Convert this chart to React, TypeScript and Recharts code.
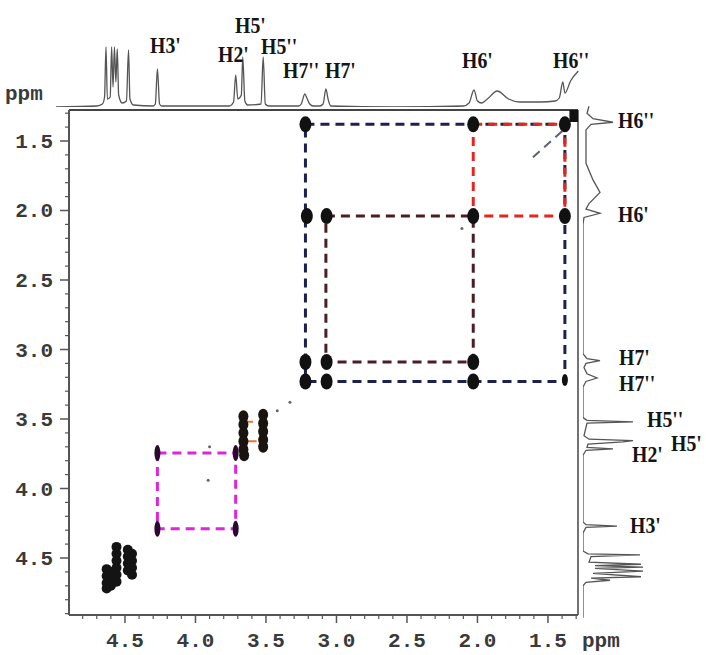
import React from "react";
import { LineChart, Line, ScatterChart, Scatter, XAxis, YAxis, ReferenceLine } from "recharts";

// chemical shift ticks (ppm): every 0.1, labelled every 0.5
const xTicks = [1.3, 1.4, 1.5, 1.6, 1.7, 1.8, 1.9, 2.0, 2.1, 2.2, 2.3, 2.4, 2.5, 2.6, 2.7, 2.8, 2.9, 3.0, 3.1, 3.2, 3.3, 3.4, 3.5, 3.6, 3.7, 3.8, 3.9, 4.0, 4.1, 4.2, 4.3, 4.4, 4.5, 4.6, 4.7, 4.8];
const yTicks = [1.3, 1.4, 1.5, 1.6, 1.7, 1.8, 1.9, 2.0, 2.1, 2.2, 2.3, 2.4, 2.5, 2.6, 2.7, 2.8, 2.9, 3.0, 3.1, 3.2, 3.3, 3.4, 3.5, 3.6, 3.7, 3.8, 3.9, 4.0, 4.1, 4.2, 4.3, 4.4, 4.5, 4.6, 4.7, 4.8, 4.9];

// 1D projection along the top: [ppm, intensity]
const topSpectrum = [
  [4.99, 0], [4.7, 1], [4.66, 3], [4.645, 10], [4.635, 60], [4.625, 8], [4.605, 10], [4.595, 60],
  [4.585, 20], [4.575, 60], [4.565, 25], [4.555, 58], [4.545, 12], [4.52, 4], [4.49, 6], [4.475, 57],
  [4.465, 8], [4.44, 2], [4.3, 1], [4.285, 3], [4.27, 38], [4.255, 3], [4.24, 1], [3.76, 1], [3.73, 5],
  [3.715, 32], [3.7, 8], [3.675, 12], [3.665, 50], [3.65, 6], [3.63, 2], [3.535, 3], [3.52, 50],
  [3.505, 3], [3.48, 1], [3.27, 1], [3.25, 3], [3.225, 13], [3.21, 9], [3.19, 3], [3.165, 1], [3.12, 1],
  [3.095, 3], [3.075, 18], [3.06, 8], [3.04, 1], [2.6, 0], [2.1, 1], [2.06, 4], [2.025, 17], [2.0, 6],
  [1.97, 4], [1.93, 8], [1.86, 16], [1.78, 8], [1.7, 5], [1.55, 5], [1.45, 6], [1.42, 9], [1.395, 25],
  [1.38, 14], [1.34, 26], [1.285, 36],
];

// 1D projection along the right side: [ppm, intensity]
const rightSpectrum = [
  [1.25, 6], [1.3, 4], [1.34, 10], [1.365, 30], [1.38, 8], [1.42, 3], [1.55, 3], [1.66, 3], [1.78, 10],
  [1.87, 17], [1.95, 6], [1.99, 3], [2.02, 17], [2.05, 1], [2.1, 0], [3.03, 0], [3.065, 4], [3.08, 17],
  [3.1, 3], [3.13, 1], [3.175, 4], [3.205, 14], [3.23, 3], [3.27, 0], [3.49, 0], [3.51, 4], [3.52, 50],
  [3.53, 4], [3.62, 1], [3.645, 6], [3.655, 50], [3.665, 40], [3.68, 5], [3.705, 4], [3.715, 30],
  [3.725, 3], [3.76, 0], [4.24, 0], [4.26, 3], [4.27, 34], [4.28, 3], [4.32, 0], [4.45, 0], [4.47, 5],
  [4.478, 57], [4.49, 8], [4.53, 6], [4.545, 58], [4.555, 12], [4.565, 60], [4.575, 12], [4.595, 60],
  [4.61, 10], [4.635, 58], [4.645, 8], [4.66, 27], [4.675, 3], [4.7, 0], [4.93, 0],
];

// cross peaks of the H6/H7 spin system
const crossPeaks = [
  { x: 3.22, y: 1.38 }, { x: 2.03, y: 1.38 }, { x: 1.38, y: 1.38 },
  { x: 3.21, y: 2.04 }, { x: 3.07, y: 2.04 }, { x: 2.03, y: 2.04 }, { x: 1.38, y: 2.04 },
  { x: 3.22, y: 3.09 }, { x: 3.07, y: 3.09 }, { x: 2.03, y: 3.09 },
  { x: 3.22, y: 3.23 }, { x: 3.07, y: 3.23 }, { x: 2.03, y: 3.23 },
];
const smallPeaks = [{ x: 1.38, y: 3.22 }];
const cornerPeak = [{ x: 1.316, y: 1.32 }];

// H2'/H3' cross peaks
const h3Peaks = [{ x: 4.27, y: 3.745 }, { x: 3.715, y: 3.745 }, { x: 4.27, y: 4.29 }, { x: 3.715, y: 4.29 }];

// H5'/H5''/H2' diagonal multiplets
const h5Cluster = [
  { x: 3.66, y: 3.48 }, { x: 3.66, y: 3.54 }, { x: 3.66, y: 3.6 }, { x: 3.66, y: 3.66 }, { x: 3.66, y: 3.72 }, { x: 3.655, y: 3.76 },
  { x: 3.52, y: 3.47 }, { x: 3.52, y: 3.53 }, { x: 3.52, y: 3.59 }, { x: 3.52, y: 3.65 }, { x: 3.52, y: 3.7 },
];

// low-field diagonal multiplets
const lowCluster = [
  { x: 4.63, y: 4.58 }, { x: 4.63, y: 4.63 }, { x: 4.63, y: 4.68 }, { x: 4.63, y: 4.72 },
  { x: 4.6, y: 4.6 }, { x: 4.6, y: 4.65 }, { x: 4.6, y: 4.7 },
  { x: 4.56, y: 4.42 }, { x: 4.56, y: 4.47 }, { x: 4.56, y: 4.52 }, { x: 4.56, y: 4.57 }, { x: 4.56, y: 4.62 }, { x: 4.56, y: 4.67 },
  { x: 4.48, y: 4.44 }, { x: 4.48, y: 4.49 }, { x: 4.48, y: 4.54 }, { x: 4.48, y: 4.59 },
  { x: 4.45, y: 4.47 }, { x: 4.45, y: 4.52 }, { x: 4.45, y: 4.57 }, { x: 4.45, y: 4.62 },
];
const noisePeaks = [{ x: 3.33, y: 3.38 }, { x: 3.42, y: 3.44 }, { x: 3.9, y: 3.7 }, { x: 3.91, y: 3.94 }, { x: 2.11, y: 2.13 }];

// connectivity boxes
const navyBox = [{ x: 3.22, y: 1.38 }, { x: 1.38, y: 1.38 }, { x: 1.38, y: 3.23 }, { x: 3.22, y: 3.23 }, { x: 3.22, y: 1.38 }];
const maroonBox = [{ x: 3.075, y: 2.04 }, { x: 2.03, y: 2.04 }, { x: 2.03, y: 3.09 }, { x: 3.075, y: 3.09 }, { x: 3.075, y: 2.04 }];
const redBox = [{ x: 2.03, y: 1.38 }, { x: 1.38, y: 1.38 }, { x: 1.38, y: 2.04 }, { x: 2.03, y: 2.04 }, { x: 2.03, y: 1.38 }];
const magentaBox = [{ x: 4.27, y: 3.745 }, { x: 3.715, y: 3.745 }, { x: 3.715, y: 4.29 }, { x: 4.27, y: 4.29 }, { x: 4.27, y: 3.745 }];
const orangeBox = [{ x: 3.655, y: 3.52 }, { x: 3.52, y: 3.52 }, { x: 3.52, y: 3.66 }, { x: 3.655, y: 3.66 }, { x: 3.655, y: 3.52 }];
const diagTrace = [{ x: 1.4, y: 1.43 }, { x: 1.61, y: 1.62 }];

// peak labels: left edge and baseline in page pixels
const topLabels = [
  { t: "H3'", x: 150, b: 53 }, { t: "H2'", x: 218, b: 62 }, { t: "H5'", x: 235, b: 33 },
  { t: "H5''", x: 261, b: 54 }, { t: "H7''", x: 283, b: 78 }, { t: "H7'", x: 325, b: 78 },
  { t: "H6'", x: 462, b: 68 }, { t: "H6''", x: 553, b: 68 },
];
const rightLabels = [
  { t: "H6''", x: 618, b: 128 }, { t: "H6'", x: 618, b: 222 }, { t: "H7'", x: 619, b: 365 },
  { t: "H7''", x: 619, b: 391 }, { t: "H5''", x: 647, b: 427 }, { t: "H5'", x: 671, b: 451 },
  { t: "H2'", x: 632, b: 462 }, { t: "H3'", x: 630, b: 533 },
];

const X_DOMAIN = [1.287, 4.897];
const Y_DOMAIN = [1.277, 4.91];
const AXIS = "#555";
const TICK_FONT = { fill: "#3a3a3a", fontSize: 21, fontFamily: "Liberation Mono", fontWeight: "bold" };

const isMajor = (v: number) => Math.abs(v * 2 - Math.round(v * 2)) < 1e-6;

const XTick = (p: any) => {
  const v = p.payload.value;
  const major = isMajor(v);
  return (
    <g>
      <line x1={p.x} x2={p.x} y1={p.y} y2={p.y + (major ? 8 : 4)} stroke={AXIS} strokeWidth={major ? 1.5 : 1.2} />
      {major && (
        <text x={p.x} y={p.y + 32} textAnchor="middle" {...TICK_FONT}>{v.toFixed(1)}</text>
      )}
    </g>
  );
};
const YTick = (p: any) => {
  const v = p.payload.value;
  const major = isMajor(v);
  return (
    <g>
      <line x1={p.x - (major ? 9 : 4)} x2={p.x} y1={p.y} y2={p.y} stroke={AXIS} strokeWidth={major ? 1.5 : 1.2} />
      {major && (
        <text x={p.x - 16} y={p.y + 7} textAnchor="end" {...TICK_FONT}>{v.toFixed(1)}</text>
      )}
    </g>
  );
};

const blob = (rx: number, ry: number, fill: string) => (p: any) =>
  p.cx == null ? <g /> : <ellipse cx={p.cx} cy={p.cy} rx={rx} ry={ry} fill={fill} />;
const square = (p: any) => (p.cx == null ? <g /> : <rect x={p.cx - 4.5} y={p.cy - 6} width={9} height={12} fill="#111" />);
const none = () => <g />;
const dashed = (stroke: string, w = 3) => ({ stroke, strokeWidth: w, strokeDasharray: "9 6" });

const App = () => {
  const top = topSpectrum.map(([ppm, v]) => ({ ppm, v }));
  const right = rightSpectrum.map(([ppm, v]) => ({ ppm, v }));
  const labels = [...topLabels, ...rightLabels];

  return (
    <div style={{ position: "absolute", left: 0, top: 0, width: 706, height: 655, background: "#fff", overflow: "hidden" }}>
      <div style={{ position: "absolute", left: 0, top: 0 }}>
        <LineChart width={706} height={108} data={top} margin={{ top: 0, left: 50, right: 126, bottom: 1 }}>
          <XAxis hide type="number" dataKey="ppm" domain={[1.273, 5.032]} reversed allowDataOverflow />
          <YAxis hide type="number" domain={[0, 107]} allowDataOverflow />
          <Line dataKey="v" type="monotone" stroke="#555" strokeWidth={1.3} dot={false} isAnimationActive={false} />
        </LineChart>
      </div>

      <div style={{ position: "absolute", left: 0, top: 0 }}>
        <LineChart width={706} height={655} data={right} layout="vertical" margin={{ top: 100, left: 583, right: 23, bottom: 35 }}>
          <XAxis hide type="number" domain={[0, 100]} allowDataOverflow />
          <YAxis hide type="number" dataKey="ppm" domain={[1.205, 4.946]} allowDataOverflow />
          <Line dataKey="v" type="linear" stroke="#555" strokeWidth={1.3} dot={false} isAnimationActive={false} />
        </LineChart>
      </div>

      <div style={{ position: "absolute", left: 0, top: 0 }}>
        <ScatterChart width={706} height={655} margin={{ top: 110, left: 0, right: 128, bottom: 0 }}>
          <XAxis type="number" dataKey="x" domain={X_DOMAIN} reversed allowDataOverflow height={40}
            ticks={xTicks} interval={0} tick={<XTick />} tickSize={0} tickMargin={0} tickLine={false}
            axisLine={{ stroke: AXIS, strokeWidth: 2 }} />
          <YAxis type="number" dataKey="y" domain={Y_DOMAIN} reversed allowDataOverflow width={69}
            ticks={yTicks} interval={0} tick={<YTick />} tickSize={0} tickMargin={0} tickLine={false}
            axisLine={{ stroke: AXIS, strokeWidth: 2 }} />
          <ReferenceLine y={Y_DOMAIN[0]} stroke="#444" strokeWidth={2} />
          <ReferenceLine x={X_DOMAIN[0]} stroke="#444" strokeWidth={1.5} />

          <Scatter data={navyBox} line={dashed("#1d2150")} lineType="joint" shape={none} isAnimationActive={false} />
          <Scatter data={maroonBox} line={dashed("#4a1e24")} lineType="joint" shape={none} isAnimationActive={false} />
          <Scatter data={redBox} line={dashed("#e5261f")} lineType="joint" shape={none} isAnimationActive={false} />
          <Scatter data={magentaBox} line={dashed("#e023dc")} lineType="joint" shape={none} isAnimationActive={false} />
          <Scatter data={orangeBox} line={dashed("#e07a30", 2)} lineType="joint" shape={none} isAnimationActive={false} />
          <Scatter data={diagTrace} line={dashed("#5a6078", 2)} lineType="joint" shape={none} isAnimationActive={false} />

          <Scatter data={crossPeaks} shape={blob(6, 8, "#111")} isAnimationActive={false} />
          <Scatter data={smallPeaks} shape={blob(3, 6, "#111")} isAnimationActive={false} />
          <Scatter data={cornerPeak} shape={square} isAnimationActive={false} />
          <Scatter data={h3Peaks} shape={blob(3, 8, "#2a0a2e")} isAnimationActive={false} />
          <Scatter data={h5Cluster} shape={blob(5, 6, "#1a1410")} isAnimationActive={false} />
          <Scatter data={lowCluster} shape={blob(5, 5, "#141414")} isAnimationActive={false} />
          <Scatter data={noisePeaks} shape={blob(1.5, 1.5, "#666")} isAnimationActive={false} />
        </ScatterChart>
      </div>

      <svg width={706} height={655} style={{ position: "absolute", left: 0, top: 0, pointerEvents: "none" }}>
        <text x={5} y={100} fontFamily="Liberation Mono" fontWeight="bold" fontSize={21} fill="#3a3a3a">ppm</text>
        <text x={582} y={647} fontFamily="Liberation Mono" fontWeight="bold" fontSize={21} fill="#3a3a3a">ppm</text>
        {labels.map((l, i) => (
          <text key={i} transform={`translate(${l.x},${l.b}) scale(0.86,1)`} fontFamily="Liberation Serif"
            fontWeight="bold" fontSize={23} fill="#151515">{l.t}</text>
        ))}
      </svg>
    </div>
  );
};

export default App;
